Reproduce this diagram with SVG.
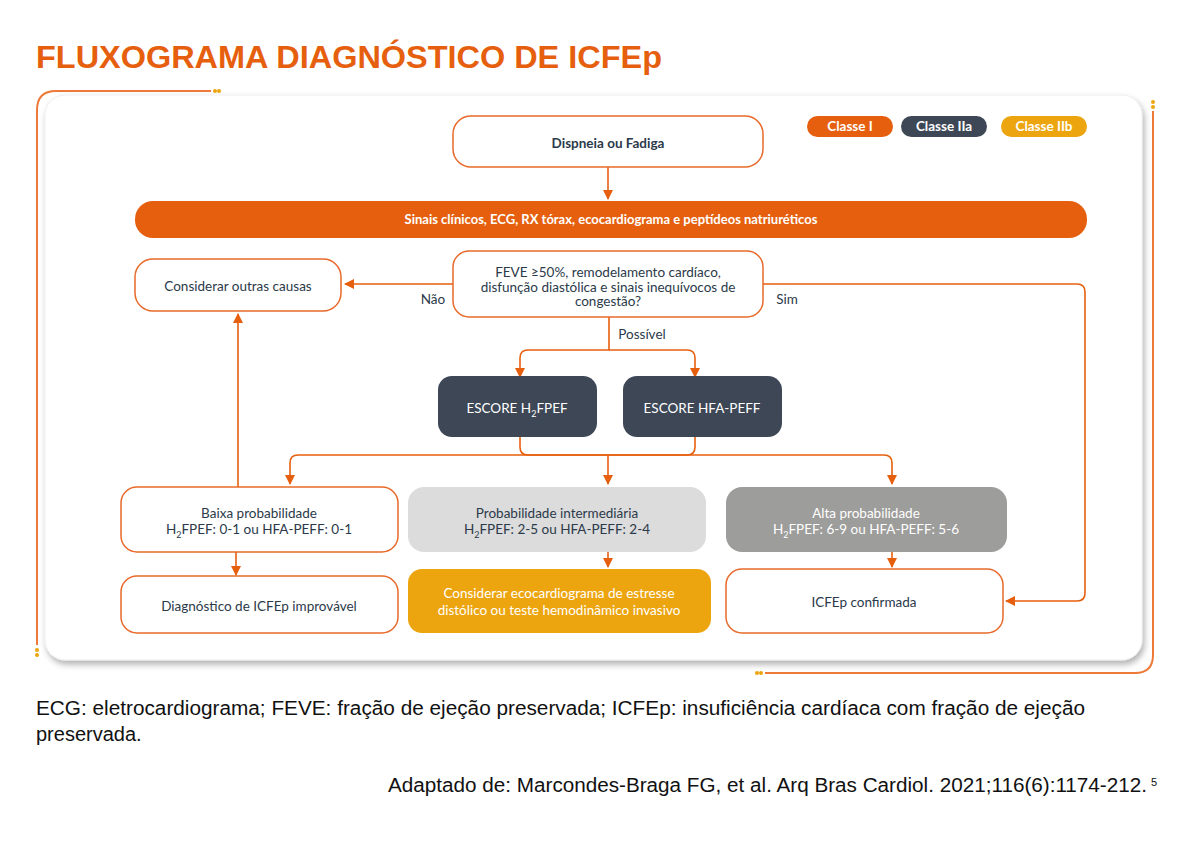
<svg xmlns="http://www.w3.org/2000/svg" width="1199" height="847" viewBox="0 0 1199 847">
<style>
text{font-family:Lato,"Open Sans",sans-serif;fill:#2B3A4A;font-size:13.5px}
.c{text-anchor:middle}
.w{fill:#fff}
.b{font-weight:bold}
.box{fill:#fff;stroke:#E8692A;stroke-width:1.5}
.ln{fill:none;stroke:#E65F0E;stroke-width:1.6}
.fr{fill:none;stroke:#EE7A3A;stroke-width:2}
.dot{fill:#EDA50F}
.ft{font-family:'Liberation Sans',Arial,sans-serif;font-size:20px;fill:#111}
</style>
<defs>
<marker id="a" markerWidth="10" markerHeight="10" refX="9" refY="5" orient="auto" markerUnits="userSpaceOnUse" viewBox="0 0 10 10"><path d="M0,0L10,5L0,10z" fill="#E65F0E"/></marker>
<filter id="sh" x="-5%" y="-5%" width="110%" height="115%"><feDropShadow dx="2" dy="4" stdDeviation="3" flood-color="#000" flood-opacity="0.3"/></filter>
</defs>
<rect width="1199" height="847" fill="#fff"/>
<text x="36" y="68" textLength="626" lengthAdjust="spacingAndGlyphs" style="font-family:'Liberation Sans',Arial,sans-serif;font-size:31px;font-weight:bold;fill:#E65F0E">FLUXOGRAMA DIAGNÓSTICO DE ICFEp</text>
<g id="frame">
<path class="fr" d="M37,645V110Q37,91 56,91H211"/>
<circle class="dot" cx="215" cy="91" r="2"/><circle class="dot" cx="219" cy="91" r="2"/>
<circle class="dot" cx="37" cy="650" r="2"/><circle class="dot" cx="37" cy="655" r="2"/>
<path class="fr" d="M1153,111V655Q1153,673 1135,673H765"/>
<circle class="dot" cx="1153" cy="102" r="2"/><circle class="dot" cx="1153" cy="107" r="2"/>
<circle class="dot" cx="757" cy="673" r="2"/><circle class="dot" cx="761" cy="673" r="2"/>
<rect x="45" y="95" width="1097" height="565" rx="20" fill="#fff" stroke="#eee" filter="url(#sh)"/>
</g>
<g id="legend">
<rect x="807" y="116" width="86" height="21" rx="10.5" fill="#E65F0E"/><text x="850" y="131" class="c w b">Classe I</text>
<rect x="901" y="116" width="86" height="21" rx="10.5" fill="#3D4756"/><text x="944" y="131" class="c w b">Classe IIa</text>
<rect x="1001" y="116" width="86" height="21" rx="10.5" fill="#EDA50F"/><text x="1044" y="131" class="c w b">Classe IIb</text>
</g>
<g id="connectors">
<path class="ln" d="M608,167V199" marker-end="url(#a)"/>
<path class="ln" d="M453,284H345" marker-end="url(#a)"/>
<path class="ln" d="M763,284H1077Q1085,284 1085,292V593Q1085,601 1077,601H1006" marker-end="url(#a)"/>
<path class="ln" d="M609,317V350H528Q520,350 520,358V377" marker-end="url(#a)"/>
<path class="ln" d="M609,350H687Q695,350 695,358V377" marker-end="url(#a)"/>
<path class="ln" d="M520,437V447Q520,455 528,455H687Q695,455 695,447V437"/>
<path class="ln" d="M608,455H298Q290,455 290,463V484" marker-end="url(#a)"/>
<path class="ln" d="M608,455H884Q892,455 892,463V484" marker-end="url(#a)"/>
<path class="ln" d="M608,455V484" marker-end="url(#a)"/>
<path class="ln" d="M238,487V314" marker-end="url(#a)"/>
<path class="ln" d="M236,552V575" marker-end="url(#a)"/>
<path class="ln" d="M608,552V567" marker-end="url(#a)"/>
<path class="ln" d="M892,552V567" marker-end="url(#a)"/>
<text x="433" y="304" class="c">Não</text>
<text x="787" y="304" class="c">Sim</text>
<text x="642" y="339" class="c">Possível</text>
</g>
<g id="n1"><rect class="box" x="453" y="116" width="310" height="51" rx="18"/><text x="608" y="148" class="c b">Dispneia ou Fadiga</text></g>
<g id="n2"><rect x="135" y="201" width="952" height="37" rx="18" fill="#E65F0E"/><text x="611" y="224" class="c w b" style="font-size:13px">Sinais clínicos, ECG, RX tórax, ecocardiograma e peptídeos natriuréticos</text></g>
<g id="n3"><rect class="box" x="135" y="259" width="206" height="52" rx="18"/><text x="238" y="291" class="c">Considerar outras causas</text></g>
<g id="n4"><rect class="box" x="453" y="251" width="310" height="66" rx="16"/>
<text x="608" y="277" class="c">FEVE ≥50%, remodelamento cardíaco,</text>
<text x="608" y="292" class="c">disfunção diastólica e sinais inequívocos de</text>
<text x="608" y="306" class="c">congestão?</text></g>
<g id="n5"><rect x="438" y="376" width="159" height="61" rx="14" fill="#3D4756"/><text x="517" y="413" class="c w">ESCORE H<tspan font-size="9" dy="4" class="w">2</tspan><tspan dy="-4" class="w">FPEF</tspan></text></g>
<g id="n6"><rect x="623" y="376" width="159" height="61" rx="14" fill="#3D4756"/><text x="702" y="413" class="c w">ESCORE HFA-PEFF</text></g>
<g id="n7"><rect class="box" x="121" y="487" width="277" height="65" rx="16"/>
<text x="259" y="518" class="c">Baixa probabilidade</text>
<text x="259" y="534" class="c">H<tspan font-size="9" dy="4">2</tspan><tspan dy="-4">FPEF: 0-1 ou HFA-PEFF: 0-1</tspan></text></g>
<g id="n8"><rect x="408" y="487" width="298" height="65" rx="16" fill="#DCDCDC"/>
<text x="557" y="518" class="c">Probabilidade intermediária</text>
<text x="557" y="534" class="c">H<tspan font-size="9" dy="4">2</tspan><tspan dy="-4">FPEF: 2-5 ou HFA-PEFF: 2-4</tspan></text></g>
<g id="n9"><rect x="726" y="487" width="281" height="65" rx="16" fill="#9D9D9B"/>
<text x="866" y="518" class="c w">Alta probabilidade</text>
<text x="866" y="534" class="c w">H<tspan font-size="9" dy="4" class="w">2</tspan><tspan dy="-4" class="w">FPEF: 6-9 ou HFA-PEFF: 5-6</tspan></text></g>
<g id="n10"><rect class="box" x="121" y="576" width="277" height="57" rx="16"/><text x="259" y="611" class="c">Diagnóstico de ICFEp improvável</text></g>
<g id="n11"><rect x="408" y="569" width="303" height="64" rx="14" fill="#EDA50F"/>
<text x="559" y="598" class="c w">Considerar ecocardiograma de estresse</text>
<text x="559" y="615" class="c w">distólico ou teste hemodinâmico invasivo</text></g>
<g id="n12"><rect class="box" x="726" y="569" width="277" height="64" rx="16"/><text x="864" y="607" class="c">ICFEp confirmada</text></g>
<text x="36" y="715" class="ft" textLength="1049" lengthAdjust="spacingAndGlyphs">ECG: eletrocardiograma; FEVE: fração de ejeção preservada; ICFEp: insuficiência cardíaca com fração de ejeção</text>
<text x="36" y="741" class="ft">preservada.</text>
<text x="388" y="792" class="ft" textLength="759" lengthAdjust="spacingAndGlyphs">Adaptado de: Marcondes-Braga FG, et al. Arq Bras Cardiol. 2021;116(6):1174-212.</text>
<text x="1151" y="786" class="ft" style="font-size:11px">5</text>
</svg>
